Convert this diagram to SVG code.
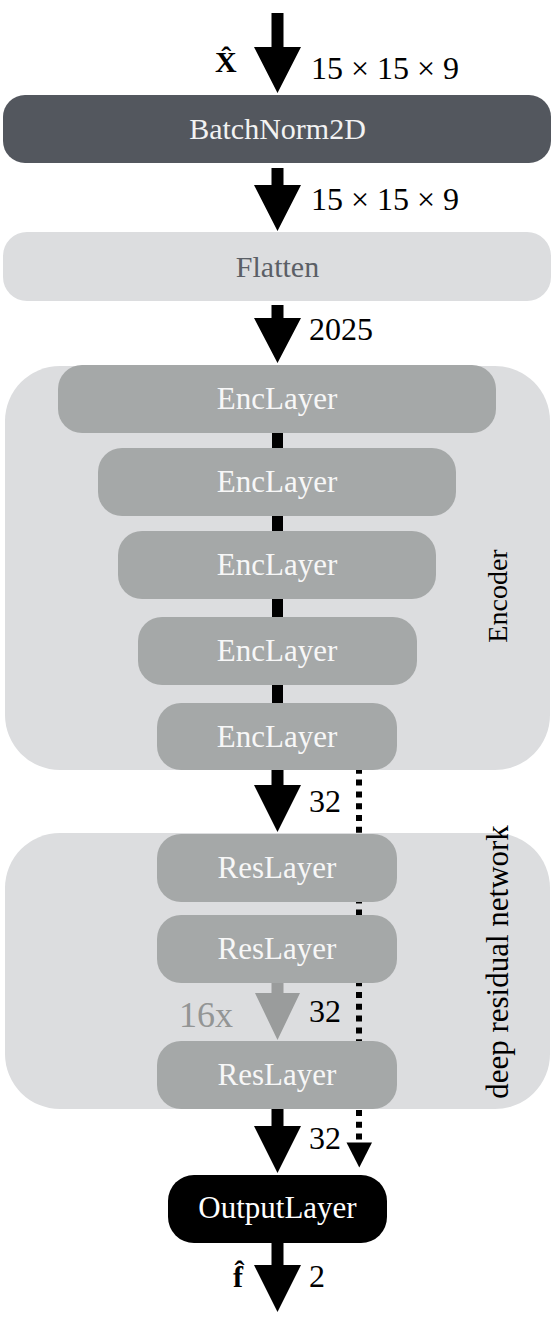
<svg xmlns="http://www.w3.org/2000/svg" width="554" height="1329" viewBox="0 0 554 1329">
<style>
text{font-family:"Liberation Serif","Times New Roman",serif}
.lbl{font-size:32px;fill:#000}
.box{fill:#a5a8a8}
.cont{fill:#dcdddf}
.lt{font-size:31px;fill:#f7f7f7;text-anchor:middle}
.arr{fill:#000}
.bold{font-weight:bold;font-size:30px}
</style>
<rect width="554" height="1329" fill="#fff"/>
<g id="encoder-container">
<rect class="cont" x="5" y="366" width="545" height="404" rx="55"/>
<text transform="translate(507,596) rotate(-90)" text-anchor="middle" style="font-size:28px">Encoder</text>
</g>
<g id="resnet-container">
<rect class="cont" x="5" y="833" width="545" height="276" rx="55"/>
<text transform="translate(508,962) rotate(-90)" text-anchor="middle" style="font-size:31px">deep residual network</text>
</g>
<g id="connectors">
<path class="arr" d="M271.5 13H283.5V47H301V47L277.5 93L254 47H271.5Z"/>
<path class="arr" d="M271.5 168H283.5V185H301L277.5 231L254 185H271.5Z"/>
<path class="arr" d="M271.5 305H283.5V318H301L277.5 363L254 318H271.5Z"/>
<rect class="arr" x="272" y="432" width="11" height="17"/>
<rect class="arr" x="272" y="515" width="11" height="17"/>
<rect class="arr" x="272" y="598" width="11" height="20"/>
<rect class="arr" x="272" y="684" width="11" height="20"/>
<path class="arr" d="M271.5 770H283.5V785H301L277.5 832L254 785H271.5Z"/>
<path fill="#9a9c9c" d="M271.5 983H283.5V993H300L277.5 1040L255 993H271.5Z"/>
<path class="arr" d="M271.5 1109H283.5V1126H301L277.5 1173L254 1126H271.5Z"/>
<path class="arr" d="M271.5 1243H283.5V1265H301L277.5 1312L254 1265H271.5Z"/>
<line x1="359" y1="756" x2="359" y2="1140" stroke="#000" stroke-width="6" stroke-dasharray="6 5.8"/>
<path class="arr" d="M346.5 1142.5H372L359.3 1167.5Z"/>
</g>
<g id="labels">
<text class="bold" x="215" y="72">X&#770;</text>
<text class="lbl" x="311" y="79">15 × 15 × 9</text>
<text class="lbl" x="311" y="210">15 × 15 × 9</text>
<text class="lbl" x="309" y="340">2025</text>
<text class="lbl" x="309" y="812">32</text>
<text x="179" y="1027" style="font-size:36px;fill:#939595">16x</text>
<text class="lbl" x="309" y="1022">32</text>
<text class="lbl" x="309" y="1149">32</text>
<text class="bold" x="233" y="1287">f&#770;</text>
<text class="lbl" x="309" y="1287">2</text>
</g>
<g id="batchnorm">
<rect x="3" y="95" width="548" height="68" rx="22" fill="#53575e"/>
<text x="277.5" y="139" text-anchor="middle" style="font-size:30px;fill:#f2f2f2">BatchNorm2D</text>
</g>
<g id="flatten">
<rect class="cont" x="3" y="232" width="548" height="69" rx="24"/>
<text x="277.5" y="276.5" text-anchor="middle" style="font-size:30px;fill:#5b5f66">Flatten</text>
</g>
<g id="enc1"><rect class="box" x="58" y="365" width="438" height="68" rx="24"/><text class="lt" x="277" y="409">EncLayer</text></g>
<g id="enc2"><rect class="box" x="98" y="448" width="358" height="68" rx="24"/><text class="lt" x="277" y="492">EncLayer</text></g>
<g id="enc3"><rect class="box" x="118" y="531" width="318" height="68" rx="24"/><text class="lt" x="277" y="575">EncLayer</text></g>
<g id="enc4"><rect class="box" x="138" y="617" width="279" height="68" rx="24"/><text class="lt" x="277" y="661">EncLayer</text></g>
<g id="enc5"><rect class="box" x="157" y="703" width="240" height="67" rx="24"/><text class="lt" x="277" y="747">EncLayer</text></g>
<g id="res1"><rect class="box" x="157" y="834" width="240" height="68" rx="24"/><text class="lt" x="277" y="878">ResLayer</text></g>
<g id="res2"><rect class="box" x="157" y="915" width="240" height="68" rx="24"/><text class="lt" x="277" y="959">ResLayer</text></g>
<g id="res3"><rect class="box" x="157" y="1041" width="240" height="68" rx="24"/><text class="lt" x="277" y="1085">ResLayer</text></g>
<g id="output"><rect x="168" y="1175" width="219" height="68" rx="26" fill="#000"/><text x="277.5" y="1218" text-anchor="middle" style="font-size:31px;fill:#fff">OutputLayer</text></g>
</svg>
